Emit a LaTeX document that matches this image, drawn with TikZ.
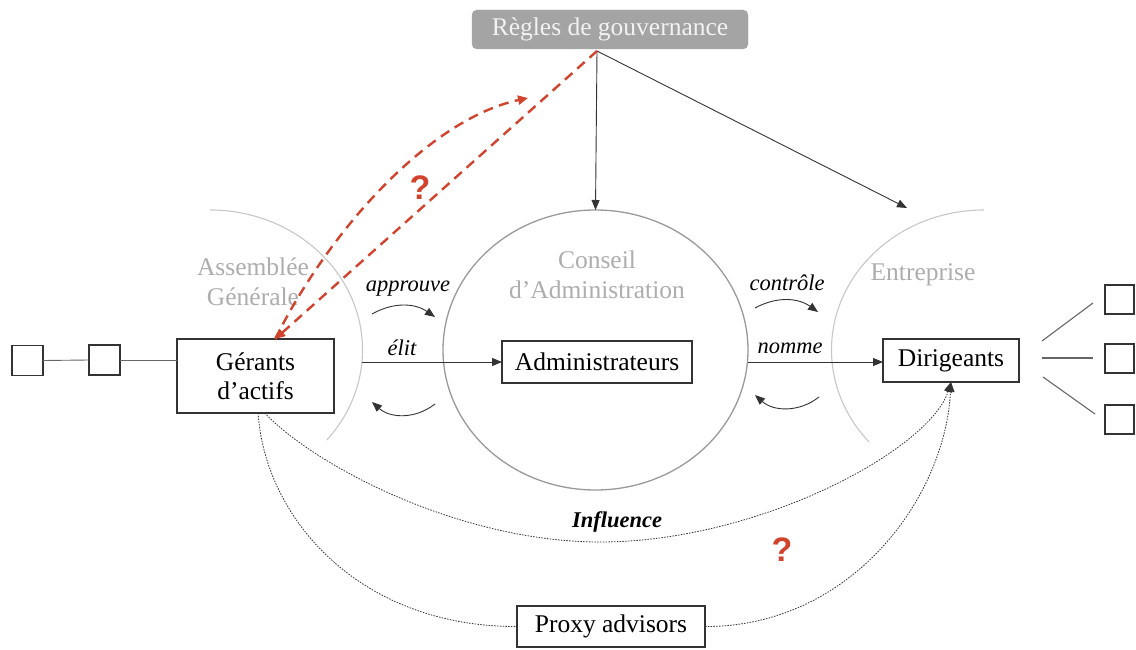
\documentclass[tikz,border=0pt]{standalone}
\usepackage{fontspec}
\setmainfont{Liberation Serif}
\newfontfamily\qfont{Liberation Sans}
\usetikzlibrary{shapes.geometric,arrows.meta,calc}
\definecolor{redq}{HTML}{D2432E}
\definecolor{rulegray}{HTML}{A4A4A4}
\begin{document}
\begin{tikzpicture}[x=1pt,y=1pt,
  box/.style={draw=black!80, line width=1.4pt, fill=white, inner sep=0pt, outer sep=0pt, font=\fontsize{25.5}{29}\selectfont, align=center},
  sq/.style={draw=black!80, line width=1.4pt, minimum width=31pt, minimum height=30pt, inner sep=0pt, outer sep=0pt},
  glabel/.style={text=black!32, font=\fontsize{25.5}{30}\selectfont, align=center, inner sep=0pt},
  ilabel/.style={font=\fontsize{22.5}{26}\selectfont\itshape, inner sep=0pt},
  conn/.style={draw=black!80, line width=0.9pt},
  arr/.style={conn, -{Triangle[length=10pt,width=8pt]}},
  dotc/.style={draw=black!80, line width=0.8pt, dash pattern=on 1.5pt off 1.3pt},
  reddash/.style={draw=redq, line width=2.4pt, dash pattern=on 10pt off 6.5pt},
  qmark/.style={text=redq, font=\qfont\bfseries\fontsize{34}{34}\selectfont, inner sep=0pt}
]
\useasboundingbox (0,0) rectangle (1136,649);

% circles
\node[draw=black!40, line width=1.3pt, ellipse, minimum width=305pt, minimum height=280pt, inner sep=0pt, outer sep=0pt] (conseil) at (595.5,299) {};
\draw[black!22, line width=1.1pt] (210,439) arc[start angle=90, end angle=-40, x radius=152.5, y radius=140];
\draw[black!22, line width=1.1pt] (984,439) arc[start angle=90, end angle=221, x radius=152.5, y radius=140];

% grey labels
\node[glabel] (lconseil) at (597,374) {Conseil\\d’Administration};
\node[glabel] (lassemb) at (253,367) {Assemblée\\Générale};
\node[glabel] (lentr) at (923,374) {Entreprise};

% boxes
\node[draw=rulegray, fill=rulegray, rounded corners=5pt, minimum width=276pt, minimum height=39pt, inner sep=0pt, text=white!95!black, font=\fontsize{25.5}{30}\selectfont] (regles) at (610,619.5) {\raisebox{-2pt}{Règles de gouvernance}};
\node[box, minimum width=190pt, minimum height=42pt] (admin) at (597,287) {Administrateurs};
\node[box, minimum width=157pt, minimum height=74pt] (gerants) at (255.5,273) {Gérants\\d’actifs};
\node[box, minimum width=136pt, minimum height=43pt] (dirig) at (951,288.5) {\raisebox{-2pt}{Dirigeants}};
\node[box, minimum width=188pt, minimum height=41pt] (proxy) at (611,22.5) {\raisebox{-3pt}{Proxy advisors}};

% small squares
\node[sq] (sq1) at (27.5,288.5) {};
\node[sq] (sq2) at (104.5,289) {};
\node[sq, minimum width=29pt, minimum height=29pt] (s1) at (1119.5,349.5) {};
\node[sq, minimum width=29pt, minimum height=29pt] (s2) at (1119.5,290.5) {};
\node[sq, minimum width=29pt, minimum height=29pt] (s3) at (1119.5,229.5) {};

\draw[conn, draw=black!60] (sq1.east) -- (sq2.west);
\draw[conn, draw=black!60] (sq2.east) -- (sq2.east -| gerants.west);

\coordinate (r1a) at (1042,308); \coordinate (r1b) at (1093,346);
\coordinate (r2a) at (1042,291); \coordinate (r2b) at (1093,291);
\coordinate (r3a) at (1043,272); \coordinate (r3b) at (1095,235);
\draw[conn, draw=black!60, line width=1.1pt] (r1a) -- (r1b);
\draw[conn, draw=black!60, line width=1.1pt] (r2a) -- (r2b);
\draw[conn, draw=black!60, line width=1.1pt] (r3a) -- (r3b);

% governance arrows
\coordinate (rg) at (597,598);
\coordinate (ent) at (907,441);
\draw[arr] (rg) -- (conseil.north);
\draw[arr] (rg) -- (ent);

% main horizontal arrows
\coordinate (ag) at (362,287);
\coordinate (cd) at (748,287);
\draw[arr] (ag) -- (ag -| admin.west);
\draw[arr] (cd) -- (cd -| dirig.west);

% curved small arrows
\coordinate (ap1) at (372,335); \coordinate (ap2) at (435,332);
\coordinate (el1) at (435,245); \coordinate (el2) at (372,247);
\coordinate (co1) at (755,341); \coordinate (co2) at (818,337);
\coordinate (no1) at (819,252); \coordinate (no2) at (755,254);
\draw[arr] (ap1) to[bend left=32] (ap2);
\draw[arr] (el1) to[bend left=40] (el2);
\draw[arr] (co1) to[bend left=32] (co2);
\draw[arr] (no1) to[bend left=40] (no2);

\node[ilabel] (lapp) at (408,360) {approuve};
\node[ilabel] (lelit) at (402,301) {élit};
\node[ilabel] (lcon) at (787,366) {contrôle};
\node[ilabel] (lnom) at (790,301) {nomme};

% dotted influence curves
\draw[dotc, -{Triangle[length=10pt,width=8pt]}] (gerants.-76) .. controls (315,183) and (460,107) .. (600,107) .. controls (760,107) and (930,200) .. (dirig.south);
\draw[dotc] (gerants.-86) .. controls (265,130) and (360,22) .. (proxy.west);
\draw[dotc, -{Triangle[length=10pt,width=8pt]}] (proxy.east) .. controls (850,22) and (945,150) .. (dirig.south);
\node[font=\fontsize{22.5}{26}\selectfont\bfseries\itshape, inner sep=0pt] (linf) at (617,127) {Influence};

% red dashed
\coordinate (rq) at (528,551);
\draw[reddash, -{Triangle[length=10pt,width=9pt]}] (rg) -- (gerants.62);
\draw[reddash, -{Triangle[length=10pt,width=9pt]}] (gerants.62) .. controls (330,420) and (430,530) .. (rq);
\node[qmark] (q1) at (420,461) {?};
\node[qmark] (q2) at (782,99) {?};
\end{tikzpicture}
\end{document}
